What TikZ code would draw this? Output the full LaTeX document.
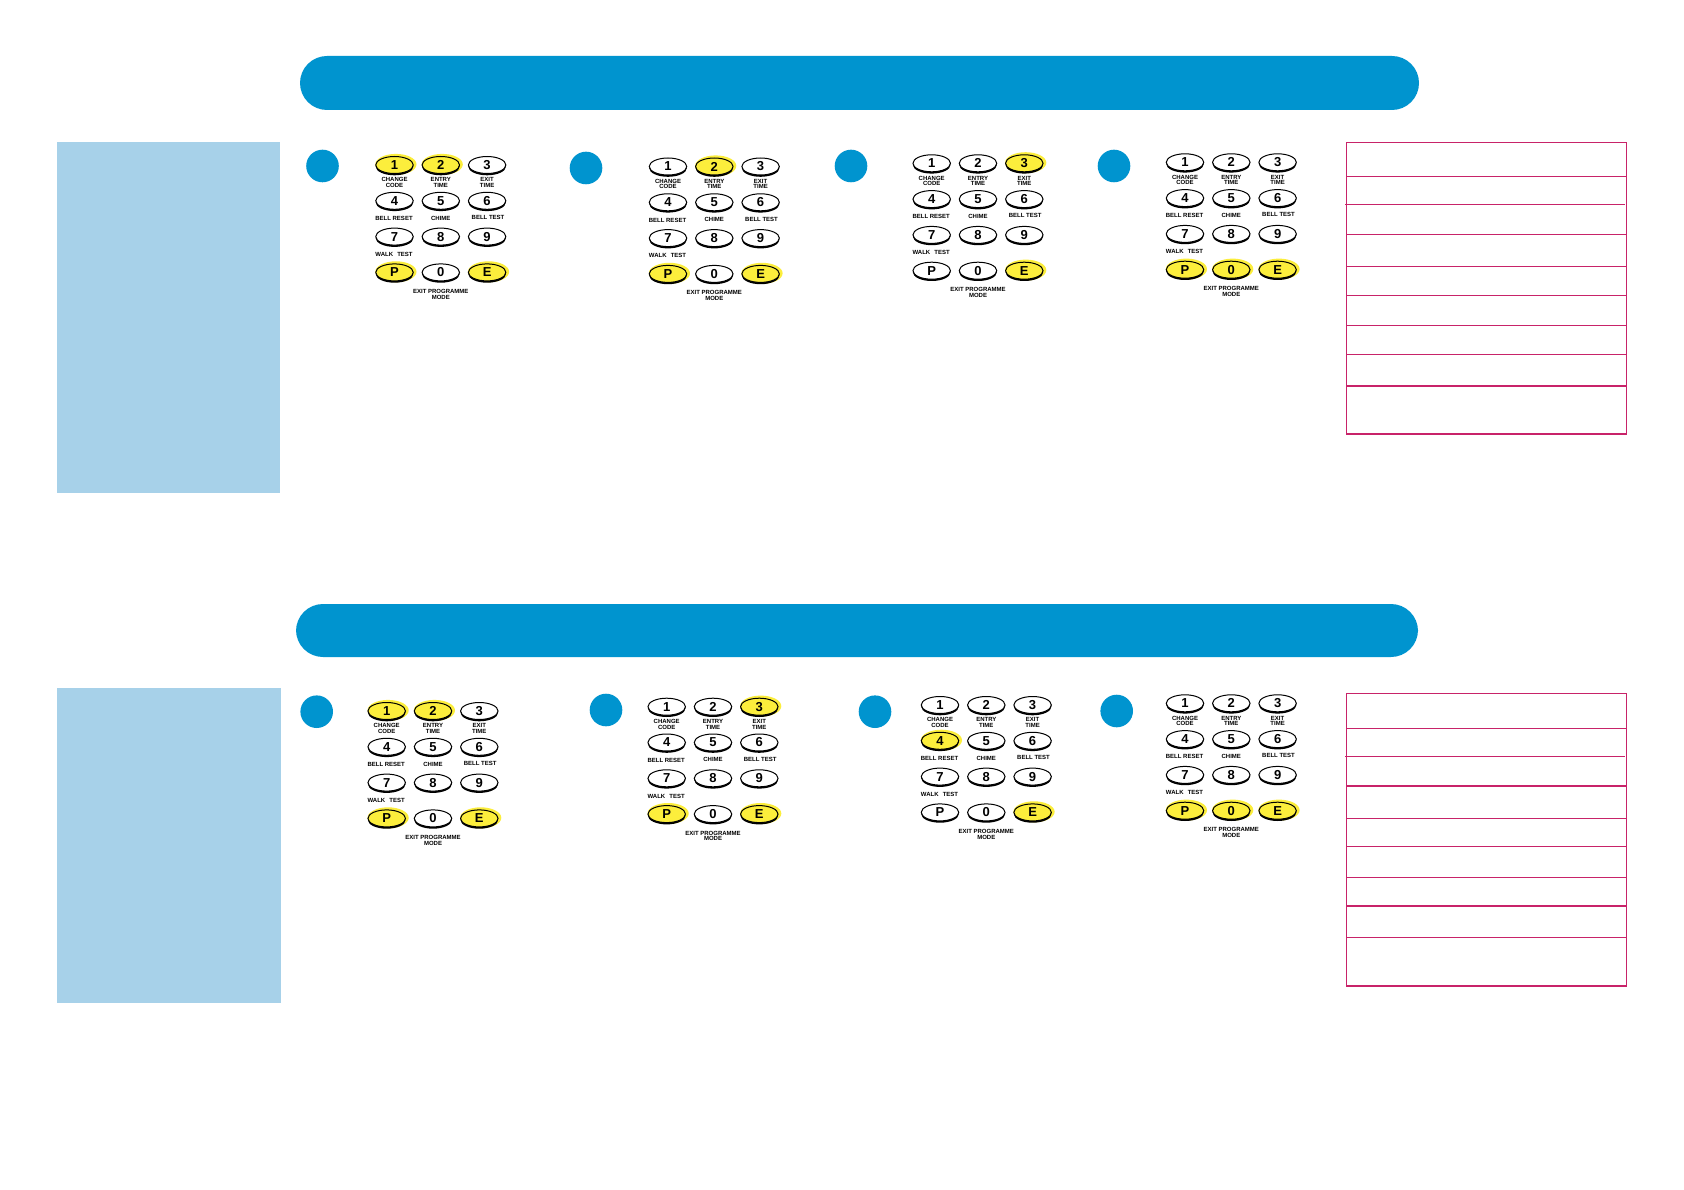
\documentclass[tikz,border=0pt]{standalone}
\usepackage{fontspec}
\setmainfont{Liberation Sans}
\usetikzlibrary{shapes.geometric}
\definecolor{bannerblue}{RGB}{0,148,207}
\definecolor{panelblue}{RGB}{167,209,233}
\definecolor{keyyellow}{RGB}{252,238,60}
\definecolor{tablered}{RGB}{200,35,105}
\tikzset{
  keyoval/.style={ellipse,draw=black,line width=1pt,minimum width=37.5pt,minimum height=17pt,inner sep=0pt,
    font=\fontsize{13}{13}\selectfont\bfseries},
  kplabel/.style={inner sep=0pt,font=\fontsize{6}{6}\selectfont\bfseries},
  stepdot/.style={circle,fill=bannerblue,minimum size=32.6pt,inner sep=0pt},
  banner/.style={fill=bannerblue,rounded corners=27pt},
  panel/.style={fill=panelblue},
  tableline/.style={draw=tablered,line width=1.2pt}
}
\makeatletter
\newcommand\kpkey[5]{%
  \edef\kp@test{\noexpand\in@{,#2,}{,#5,}}\kp@test
  \ifin@
    \fill[keyyellow] (#3+1.4,#4-0.6) ellipse[x radius=20.6pt,y radius=10.5pt];
    \def\kp@fill{keyyellow}%
  \else
    \def\kp@fill{white}%
  \fi
  \fill[black] (#3,#4+1.6) ellipse[x radius=18.8pt,y radius=8.7pt];
  \node[keyoval,fill=\kp@fill] (#1-#2) at (#3,#4) {#2};
}
\makeatother
\newcommand\keypad[4]{%
  \begin{scope}[shift={(#2,#3)}]
    \foreach \k/\c/\r in {1/0/0,2/1/0,3/2/0,4/0/1,5/1/1,6/2/1,7/0/2,8/1/2,9/2/2,P/0/3,0/1/3,E/2/3}
      {\kpkey{#1}{\k}{\c*46.3}{\r*35.8}{#4}}
    \node[kplabel] (#1-la) at (0,14.8) {CHANGE};
    \node[kplabel] (#1-lb) at (0,20.4) {CODE};
    \node[kplabel] (#1-lc) at (46.3,14.8) {ENTRY};
    \node[kplabel] (#1-ld) at (46.3,20.4) {TIME};
    \node[kplabel] (#1-le) at (92.6,14.8) {EXIT};
    \node[kplabel] (#1-lf) at (92.6,20.4) {TIME};
    \node[kplabel] (#1-lg) at (-0.5,53.6) {BELL RESET};
    \node[kplabel] (#1-lh) at (46.3,53.1) {CHIME};
    \node[kplabel] (#1-li) at (93.5,52.6) {BELL TEST};
    \node[kplabel] (#1-lj) at (-0.5,89.4) {WALK\hspace{2.5pt} TEST};
    \node[kplabel] (#1-lk) at (46.3,126.4) {EXIT PROGRAMME};
    \node[kplabel] (#1-ll) at (46.3,132) {MODE};
  \end{scope}
}
\begin{document}
\begin{tikzpicture}[x=1pt,y=-1pt]
\useasboundingbox (0,0) rectangle (1684,1190);
\fill[white] (0,0) rectangle (1684,1190);

% banners
\fill[banner] (300,56) rectangle (1419,110);
\fill[banner] (296,604) rectangle (1418,657);

% side panels
\fill[panel] (57,142) rectangle (280,493);
\fill[panel] (57,688) rectangle (281,1003);

% step dots
\node[stepdot] (t1) at (322.5,166) {};
\node[stepdot] (t2) at (586,168) {};
\node[stepdot] (t3) at (851,166) {};
\node[stepdot] (t4) at (1114,166) {};
\node[stepdot] (b1) at (316.7,711.7) {};
\node[stepdot] (b2) at (606,710) {};
\node[stepdot] (b3) at (875,711.7) {};
\node[stepdot] (b4) at (1116.7,711) {};

% keypads
\keypad{kt1}{394.5}{165}{1,2,P,E}
\keypad{kt2}{668}{166.5}{2,P,E}
\keypad{kt3}{931.7}{163.3}{3,E}
\keypad{kt4}{1185}{162.3}{P,0,E}
\keypad{kb1}{386.7}{711}{1,2,P,E}
\keypad{kb2}{666.7}{706.7}{3,P,E}
\keypad{kb3}{940}{705}{4,E}
\keypad{kb4}{1185}{703.3}{P,0,E}

% tables
\draw[tableline] (1346.3,142.3) rectangle (1626.7,434);
\foreach \y in {176.3,234.3,266.3,295.3,325.3,354.3,386}
  \draw[tableline] (1346.3,\y) -- (1626.7,\y);
\draw[tableline] (1345,204.3) -- (1625.3,204.3);

\draw[tableline] (1346.3,693.3) rectangle (1626.7,986);
\foreach \y in {728.3,786,818.3,846.3,877.3,906,937.3}
  \draw[tableline] (1346.3,\y) -- (1626.7,\y);
\draw[tableline] (1345,756.3) -- (1625.3,756.3);
\end{tikzpicture}
\end{document}
